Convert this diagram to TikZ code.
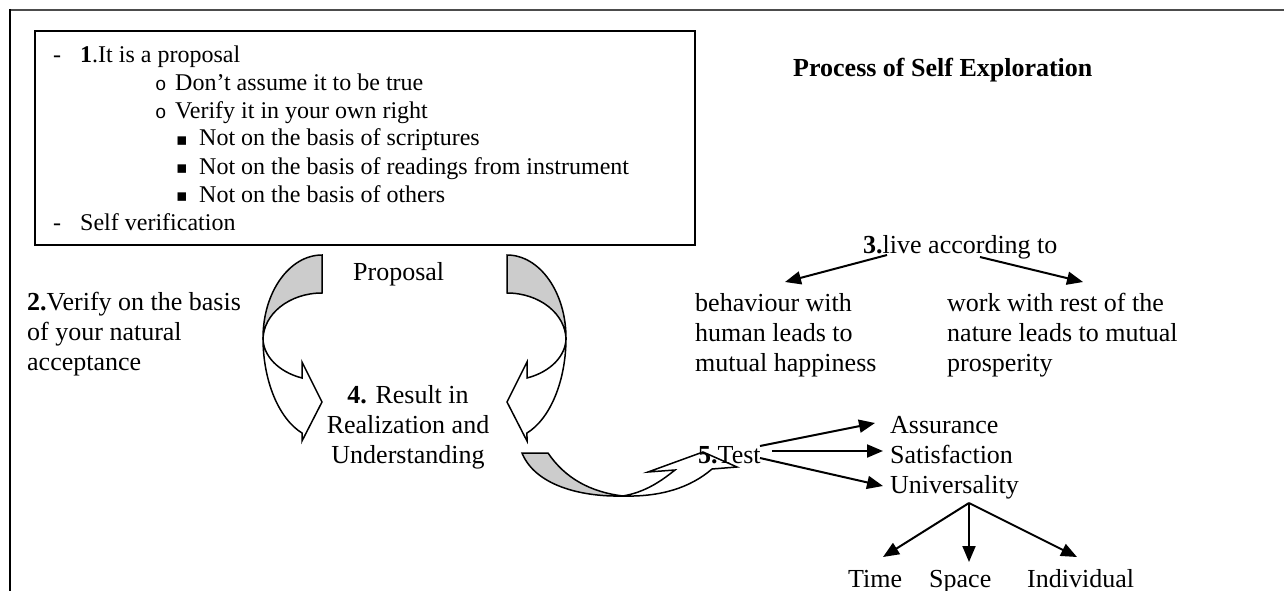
\documentclass[tikz,border=0pt]{standalone}
\usepackage{fontspec}
\setmainfont{Liberation Serif}
\newfontfamily\circbullet{Liberation Mono}
\newfontfamily\sqbullet{DejaVu Sans}
\usetikzlibrary{arrows.meta}

\tikzset{
  % Curved arrow sweeping down the left side and pointing right
  curvedarrow/.pic={
    \path[outline,back side] (0,0)
      arc[start angle=270,end angle=180,x radius=59,y radius=83]
      -- (-59,85)
      arc[start angle=180,end angle=270,x radius=59,y radius=47] -- cycle;
    \path[outline,front side] (-59,83)
      arc[start angle=180,end angle=109.8,x radius=59,y radius=101]
      -- (-20,186) -- (0,147) -- (-20,107) -- (-20,123)
      arc[start angle=109.8,end angle=180,x radius=59,y radius=42.5] -- cycle;
  }
}

\begin{document}
\begin{tikzpicture}[x=1pt,y=-1pt,
  ftxt/.style={anchor=base west,inner sep=0pt,font=\fontsize{26}{30}\selectfont},
  ctxt/.style={anchor=base,inner sep=0pt,font=\fontsize{26}{30}\selectfont},
  btxt/.style={anchor=base west,inner sep=0pt,font=\fontsize{24}{28}\selectfont},
  bullet/.style={anchor=base west,inner sep=0pt},
  arr/.style={line width=2pt,-{Triangle[length=16pt,width=13pt]}},
  outline/.style={draw=black,line width=1.5pt,line join=miter},
  back side/.style={fill=gray!40},
  front side/.style={fill=white}]

\useasboundingbox (0,0) rectangle (1284,591);

% page frame
\draw[gray!60!black,line width=2pt] (9,10) -- (1284,10);
\draw[black,line width=2pt] (10,9) -- (10,591);

% proposal box
\draw[black,line width=1.5pt] (35,31) rectangle (695,245);
\node[btxt] (d1) at (53,63) {-};
\node[btxt] (p1) at (80,63) {\textbf{1}.It is a proposal};
\node[bullet] (o1) at (155,91) {\circbullet\fontsize{19}{20}\selectfont o};
\node[btxt] (p2) at (175,91) {Don’t assume it to be true};
\node[bullet] (o2) at (155,119) {\circbullet\fontsize{19}{20}\selectfont o};
\node[btxt] (p3) at (175,119) {Verify it in your own right};
\node[bullet] (s1) at (176,145) {\sqbullet\fontsize{17}{18}\selectfont ▪};
\node[btxt] (p4) at (199,146) {Not on the basis of scriptures};
\node[bullet] (s2) at (176,173) {\sqbullet\fontsize{17}{18}\selectfont ▪};
\node[btxt] (p5) at (199,174) {Not on the basis of readings from instrument};
\node[bullet] (s3) at (176,201) {\sqbullet\fontsize{17}{18}\selectfont ▪};
\node[btxt] (p6) at (199,202) {Not on the basis of others};
\node[btxt] (d2) at (53,230) {-};
\node[btxt] (p7) at (80,230) {Self verification};

% title
\node[ftxt] (title) at (793,77) {\textbf{Process of Self Exploration}};

% left column
\node[ftxt] (v1) at (27,310) {\textbf{2.}Verify on the basis};
\node[ftxt] (v2) at (27,340) {of your natural};
\node[ftxt] (v3) at (27,370) {acceptance};

\node[ftxt] (prop) at (353,280) {Proposal};

\node[ctxt] (r1) at (408,403) {\textbf{4.} Result in};
\node[ctxt] (r2) at (408,433) {Realization and};
\node[ctxt] (r3) at (408,463) {Understanding};

% curved arrows around the centre
\pic at (322,255) {curvedarrow};
\pic[xscale=-1] at (507,255) {curvedarrow};

% flat curved arrow towards the test
\path[outline,back side] (522,453) -- (548,453)
  .. controls (565,478) and (590,492) .. (623,496)
  .. controls (580,497) and (535,485) .. (522,453) -- cycle;
\path[outline,front side] (623,496)
  .. controls (660,497) and (690,488) .. (712,469)
  -- (737,467) -- (703,452) -- (648,472) -- (675,470)
  .. controls (660,482) and (645,492) .. (623,496) -- cycle;

% live according to
\node[ftxt] (live) at (863,253) {\textbf{3.}live according to};
\node[ftxt] (b1) at (695,311) {behaviour with};
\node[ftxt] (b2) at (695,341) {human leads to};
\node[ftxt] (b3) at (695,371) {mutual happiness};
\node[ftxt] (w1) at (947,311) {work with rest of the};
\node[ftxt] (w2) at (947,341) {nature leads to mutual};
\node[ftxt] (w3) at (947,371) {prosperity};

\coordinate (liveL) at (887,255);
\coordinate (liveR) at (980,257);
\coordinate (behT) at (785,282);
\coordinate (workT) at (1083,282);
\draw[arr] (liveL) -- (behT);
\draw[arr] (liveR) -- (workT);

% test
\node[ftxt] (test) at (698,463) {\textbf{5.}Test};
\node[ftxt] (ass) at (890,433) {Assurance};
\node[ftxt] (sat) at (890,463) {Satisfaction};
\node[ftxt] (uni) at (890,493) {Universality};

\coordinate (tA) at (760,446);
\coordinate (tS) at (772,451);
\coordinate (tU) at (760,458);
\coordinate (aE) at (875,423);
\coordinate (sE) at (883,451);
\coordinate (uE) at (883,486);
\draw[arr] (tA) -- (aE);
\draw[arr] (tS) -- (sE);
\draw[arr] (tU) -- (uE);

% universality branches
\node[ftxt] (time) at (848,587) {Time};
\node[ftxt] (space) at (929,587) {Space};
\node[ftxt] (indiv) at (1027,587) {Individual};

\coordinate (uB) at (969,503);
\coordinate (timeT) at (883,557);
\coordinate (spaceT) at (969,562);
\coordinate (indivT) at (1077,557);
\draw[arr] (uB) -- (timeT);
\draw[arr] (uB) -- (spaceT);
\draw[arr] (uB) -- (indivT);

\end{tikzpicture}
\end{document}
